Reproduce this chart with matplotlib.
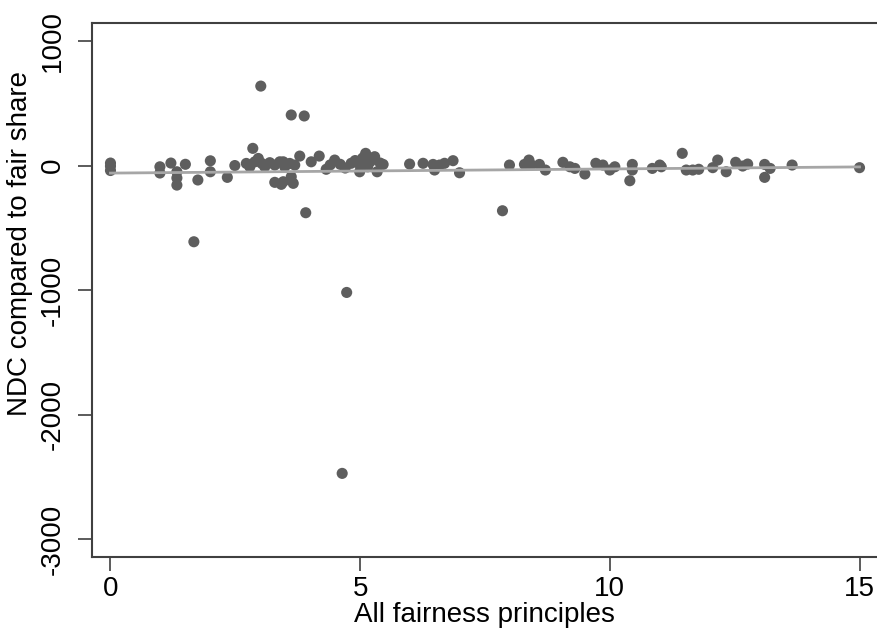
import numpy as np
import matplotlib
matplotlib.use("Agg")
import matplotlib.pyplot as plt

plt.rcParams['font.family'] = ['Liberation Sans', 'DejaVu Sans']
plt.rcParams['axes.unicode_minus'] = False

# fairness-principles score (x) and NDC compared to fair share (y)
fairness = [
    0.0, 0.0, 0.0,
    0.99, 0.99, 1.21, 1.33, 1.33, 1.33, 1.50, 1.67, 1.75, 2.00, 2.00, 2.34, 2.49,
    2.72, 2.79, 2.85, 2.89, 2.96, 3.01, 3.03, 3.09, 3.19, 3.29, 3.29, 3.39, 3.42,
    3.46, 3.46, 3.49, 3.59, 3.62, 3.62, 3.66, 3.69, 3.79, 3.88, 3.91,
    4.02, 4.18, 4.32, 4.40, 4.49, 4.60, 4.64, 4.70, 4.73, 4.82, 4.90, 4.99, 5.00,
    5.05, 5.11, 5.15, 5.20, 5.29, 5.34, 5.40, 5.46,
    5.99, 6.26, 6.46, 6.49, 6.59, 6.69, 6.86, 6.99,
    7.85, 7.99, 8.29, 8.38, 8.43, 8.59, 8.71,
    9.06, 9.20, 9.30, 9.50, 9.72, 9.86, 10.00, 10.10,
    10.40, 10.45, 10.45, 10.85, 11.00, 11.03,
    11.45, 11.53, 11.66, 11.78, 12.06, 12.16, 12.33, 12.52, 12.66, 12.76,
    13.10, 13.10, 13.21, 13.65, 15.00,
]
ndc_gap = [
    20, -5, -40,
    -10, -60, 20, -50, -100, -157, 10, -612, -116, 38, -50, -95, 0,
    17, -10, 138, 30, 57, 638, 17, -10, 23, 4, -135, 30, -151,
    30, -130, -10, 17, -90, 406, -143, 4, 76, 398, -379,
    30, 76, -30, 5, 44, 10, -2472, -20, -1019, 18, 40, -50, 0,
    60, 98, -10, 30, 71, -50, 20, 9,
    12, 18, 9, -36, 4, 18, 39, -58,
    -363, 4, 9, 44, 4, 9, -36,
    26, -10, -23, -68, 18, 4, -36, -10,
    -122, 9, -36, -23, 4, -10,
    98, -36, -36, -30, -17, 44, -50, 26, -4, 12,
    9, -95, -23, 4, -17,
]

x = np.array(fairness)
y = np.array(ndc_gap)
coef = np.polyfit(x, y, 1)
xf = np.array([x.min(), x.max()])
yf = np.polyval(coef, xf)

fig = plt.figure(figsize=(8.77, 6.41), dpi=100)
ax = fig.add_axes([92 / 877, 1 - 556.7 / 641, 1 - 92 / 877, (556.7 - 22.7) / 641])

ax.scatter(x, y, s=64, color='#5e5e5e', edgecolors='none', zorder=2)
ax.plot(xf, yf, color='#a6a6a6', lw=2, zorder=3)

ax.set_xlim(-0.37, 15.35)
ax.set_ylim(-3141, 1147)
ax.set_xticks([0, 5, 10, 15])
ax.set_yticks([-3000, -2000, -1000, 0, 1000])
ax.tick_params(axis='both', direction='out', length=10, width=1.2, color='#404040',
               labelsize=20)
ax.tick_params(axis='y', pad=9)
ax.tick_params(axis='x', pad=4)
for lab in ax.get_yticklabels():
    lab.set_rotation(90)
    lab.set_va('center')
ax.spines['right'].set_visible(False)
for sp in ['left', 'bottom', 'top']:
    ax.spines[sp].set_color('#404040')
    ax.spines[sp].set_linewidth(1.5)

ax.set_xlabel('All fairness principles', fontsize=20, labelpad=0)
ax.set_ylabel('NDC compared to fair share', fontsize=20, labelpad=2)
ax.yaxis.set_label_coords(-0.075, 0.587)

fig.savefig('out.png', dpi=100)
